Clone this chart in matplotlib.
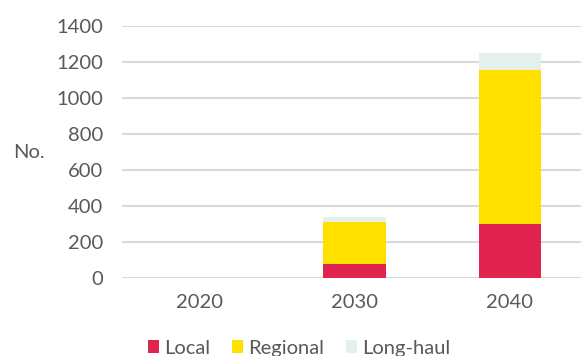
import matplotlib.pyplot as plt
import numpy as np

plt.rcParams['font.family'] = ['Lato', 'DejaVu Sans']

years = ['2020', '2030', '2040']
local = [0, 76, 297]
regional = [0, 232, 857]
long_haul = [0, 31, 98]

colors = {'Local': '#E0234F', 'Regional': '#FFE000', 'Long-haul': '#E4F1EB'}
grey = '#595959'

fig = plt.figure(figsize=(5.81, 3.56), dpi=100)
ax = fig.add_axes([121.5 / 581, 78.3 / 356, 459.5 / 581, 251.7 / 356])

x = np.arange(len(years))
w = 0.405
bottom = np.zeros(len(years))
for name, vals in [('Local', local), ('Regional', regional), ('Long-haul', long_haul)]:
    ax.bar(x, vals, w, bottom=bottom, color=colors[name], label=name, zorder=3)
    bottom += np.array(vals)

ax.set_xlim(-0.5, 2.457)
ax.set_ylim(0, 1400)
ax.set_yticks(range(0, 1401, 200))
ax.set_xticks(x)
ax.set_xticklabels(years)
ax.yaxis.grid(True, color='#D9D9D9', linewidth=1.5, zorder=0)
ax.set_axisbelow(True)
for s in ax.spines.values():
    s.set_visible(False)
ax.tick_params(length=0, labelsize=14.5, colors=grey)
ax.tick_params(axis='y', pad=13)
ax.tick_params(axis='x', pad=12)

fig.text(13 / 581, 1 - 153 / 356, 'No.', fontsize=14.5, color=grey, va='center', ha='left')

fig.legend(loc='center', bbox_to_anchor=(0.515, 0.022), ncol=3, frameon=False,
           fontsize=14.5, labelcolor=grey, handlelength=0.55, handleheight=0.55,
           handletextpad=0.25, columnspacing=1.1)

fig.savefig('out.png', dpi=100)
